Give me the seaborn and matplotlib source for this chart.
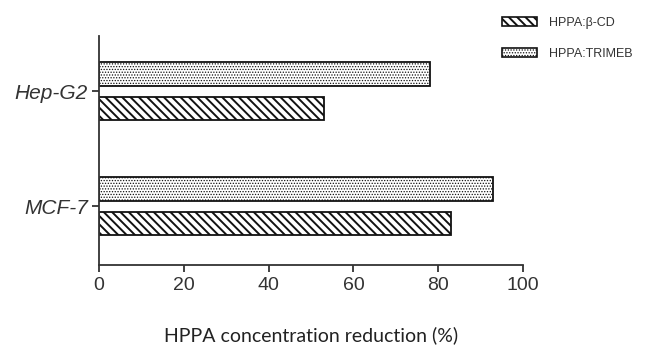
import matplotlib
matplotlib.use("Agg")
import matplotlib.pyplot as plt
from matplotlib.patches import Patch
import seaborn as sns
import pandas as pd

cells = ["Hep-G2", "MCF-7"]
series = ["HPPA:β-CD", "HPPA:TRIMEB"]
beta_cd = [53, 83]
trimeb = [78, 93]
xticks = [0, 20, 40, 60, 80, 100]

rows = []
for c, b, t in zip(cells, beta_cd, trimeb):
    rows.append({"cell": c, "complex": series[1], "value": t})
    rows.append({"cell": c, "complex": series[0], "value": b})
df = pd.DataFrame(rows)

sns.set_theme(style="ticks")
plt.rcParams["font.family"] = ["Liberation Sans", "DejaVu Sans"]
plt.rcParams["hatch.linewidth"] = 1.4

fig = plt.figure(figsize=(6.45, 3.54), dpi=100)
ax = fig.add_axes([99 / 645, 1 - 265 / 354, (523 - 99) / 645, (265 - 36) / 354])

hue_order = [series[1], series[0]]
sns.barplot(data=df, x="value", y="cell", hue="complex", orient="h",
            order=cells, hue_order=hue_order, palette=["white", "white"],
            edgecolor="#111111", linewidth=1.3, width=0.6, gap=0.33,
            legend=False, errorbar=None, ax=ax)

hatches = {series[1]: "......", series[0]: "\\\\\\\\"}


def thin_hatch(p):
    if hasattr(p, "set_hatch_linewidth"):
        p.set_hatch_linewidth(0.6)
    else:
        p._hatch_linewidth = 0.6


for cont, name in zip(ax.containers, hue_order):
    for p in cont.patches:
        p.set_hatch(hatches[name])
        if name == series[1]:
            thin_hatch(p)

ax.set_xlim(0, 100)
ax.set_ylim(1.51, -0.48)
ax.set_xticks(xticks)
ax.set_xticklabels([str(v) for v in xticks])
sns.despine(ax=ax)
for s in ["left", "bottom"]:
    ax.spines[s].set_linewidth(1.3)
    ax.spines[s].set_color("#333333")
ax.tick_params(axis="both", length=5, width=1.3, color="#333333", labelcolor="#333333")
ax.tick_params(axis="x", labelsize=14, pad=4)
ax.tick_params(axis="y", labelsize=15, pad=3)
for lbl in ax.get_yticklabels():
    lbl.set_fontstyle("italic")
ax.set_ylabel("")
ax.set_xlabel("HPPA concentration reduction (%)", fontsize=14, family=["Lato", "DejaVu Sans"],
              color="#222222", labelpad=23)

handles = []
for s in series:
    h = Patch(facecolor="white", edgecolor="#111111", hatch=hatches[s], linewidth=1.2, label=s)
    handles.append(h)
leg = fig.legend(handles=handles, loc="upper left", bbox_to_anchor=(502 / 645, 1 - 17 / 354),
                 frameon=False, fontsize=9, handlelength=2.8, handleheight=0.7,
                 handletextpad=1.0, labelspacing=1.5, borderpad=0, borderaxespad=0,
                 labelcolor="#333333")
for lh, s in zip(leg.legend_handles, series):
    if s == series[1]:
        thin_hatch(lh)

fig.savefig("out.png", dpi=100)
